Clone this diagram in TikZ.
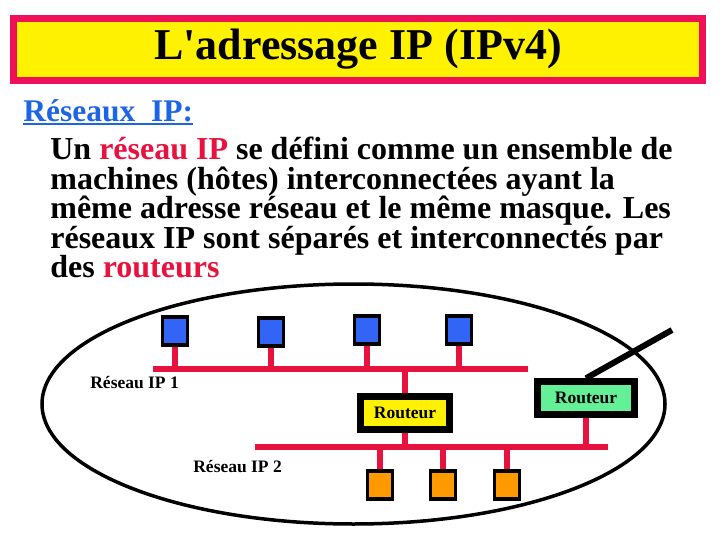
\documentclass[tikz,border=0pt]{standalone}
\usepackage{fontspec}
\setmainfont{Liberation Serif}
\usetikzlibrary{calc}

\definecolor{cadrerouge}{RGB}{240,16,90}
\definecolor{rougereseau}{RGB}{232,18,62}
\definecolor{bleutitre}{RGB}{30,100,230}
\definecolor{bleuhote}{RGB}{50,100,245}
\definecolor{orangehote}{RGB}{255,153,0}
\definecolor{vertrouteur}{RGB}{100,240,150}

\begin{document}
\begin{tikzpicture}[x=1pt, y=-1pt, line width=0.7pt,
  hote/.style={draw=black, line width=3.5pt, minimum width=25pt, minimum height=28pt, inner sep=0pt},
  routeur/.style={draw=black, line width=6.5pt, minimum width=89pt, minimum height=33pt, inner sep=0pt,
    font=\fontsize{17.5}{20}\selectfont\bfseries},
  etiq/.style={anchor=base west, inner sep=0pt, font=\fontsize{17.5}{20}\selectfont\bfseries},
  bus/.style={draw=rougereseau, line width=6pt},
  lien/.style={draw=rougereseau, line width=5.5pt}]
  \useasboundingbox (0,0) rectangle (720,540);
  % titre
  \node[draw=cadrerouge, fill=yellow, line width=7pt, minimum width=689pt, minimum height=62pt,
    inner sep=0pt, font=\fontsize{44}{48}\selectfont\bfseries] (titre) at (358,49.5)
    {L\textquotesingle adressage IP (IPv4)};
  % texte
  \node[anchor=base west, inner sep=0pt, text=bleutitre, font=\fontsize{31.5}{30}\selectfont\bfseries]
    (tete) at (23,122) {Réseaux\ \ IP:};
  \draw[bleutitre, line width=2pt] ([yshift=-2pt]tete.base west) -- ([yshift=-2pt]tete.base east);
  \node[anchor=north west, align=left, inner sep=0pt, font=\fontsize{32}{29.5}\selectfont\bfseries]
    (texte) at (50,137) {Un \textcolor{rougereseau}{réseau IP} se défini comme un ensemble de\\
    machines (hôtes) interconnectées ayant la\\
    même adresse réseau et le même masque. Les\\
    réseaux IP sont séparés et interconnectés par\\
    des \textcolor{rougereseau}{routeurs}};
  % ensemble des deux réseaux
  \draw[line width=3.5pt] (353.5,404) ellipse [x radius=311.5pt, y radius=120pt];
  % réseau 1
  \coordinate (bus1g) at (153,369); \coordinate (bus1d) at (528,369);
  \draw[bus] (bus1g) -- (bus1d);
  \node[hote, fill=bleuhote] (b1) at (175,331) {};
  \node[hote, fill=bleuhote] (b2) at (271,332) {};
  \node[hote, fill=bleuhote] (b3) at (367,330) {};
  \node[hote, fill=bleuhote] (b4) at (459,330) {};
  \draw[lien] (b1.south) -- (b1.south |- bus1g);
  \draw[lien] (b2.south) -- (b2.south |- bus1g);
  \draw[lien] (b3.south) -- (b3.south |- bus1g);
  \draw[lien] (b4.south) -- (b4.south |- bus1g);
  \node[etiq] (nom1) at (90,388) {Réseau IP 1};
  % réseau 2
  \coordinate (bus2g) at (255,447); \coordinate (bus2d) at (608,447);
  \draw[bus] (bus2g) -- (bus2d);
  \node[hote, fill=orangehote] (o1) at (380,485) {};
  \node[hote, fill=orangehote] (o2) at (443,485) {};
  \node[hote, fill=orangehote] (o3) at (507,485) {};
  \draw[lien] (o1.north) -- (o1.north |- bus2g);
  \draw[lien] (o2.north) -- (o2.north |- bus2g);
  \draw[lien] (o3.north) -- (o3.north |- bus2g);
  \node[etiq] (nom2) at (193,472) {Réseau IP 2};
  % routeurs
  \node[routeur, fill=yellow] (r1) at (405,413) {Routeur};
  \draw[lien] (r1.north) -- (r1.north |- bus1g);
  \draw[lien] (r1.south) -- (r1.south |- bus2g);
  \node[routeur, fill=vertrouteur, minimum width=97pt] (r2) at (586,398) {Routeur};
  \draw[lien] (r2.south) -- (r2.south |- bus2g);
  \coordinate (sortie) at (672,330);
  \draw[line width=6pt] (r2.north) -- (sortie);
\end{tikzpicture}
\end{document}
